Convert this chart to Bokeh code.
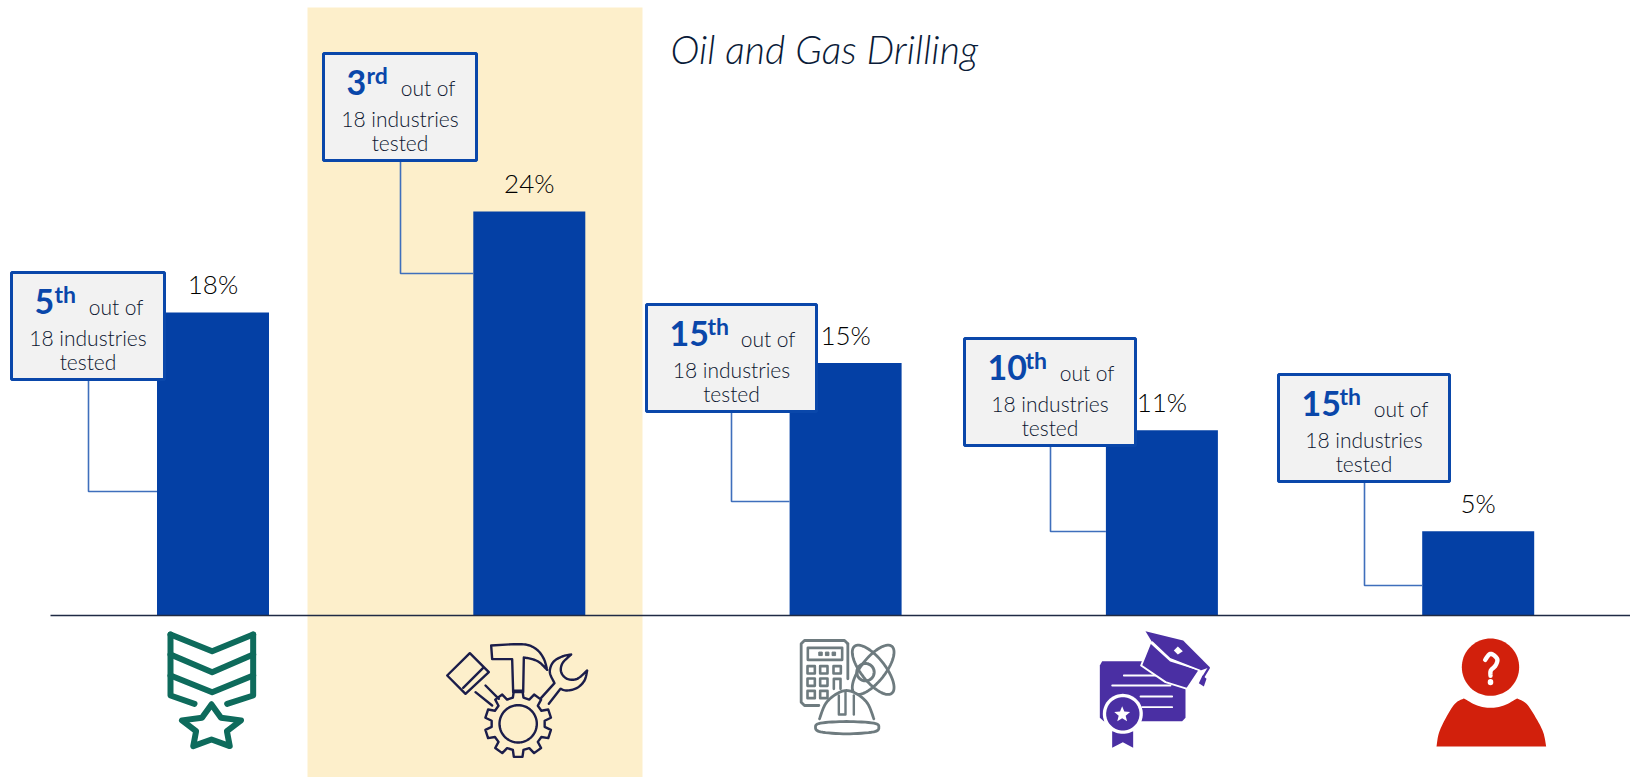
import numpy as np
from bokeh.core.properties import value
from bokeh.embed import file_html
from bokeh.models import ColumnDataSource, Range1d
from bokeh.plotting import figure
from bokeh.resources import INLINE

# Chart values
title_text = "Oil and Gas Drilling"
shares = [18, 24, 15, 11, 5]
ranks = ["5", "3", "15", "10", "15"]
suffixes = ["th", "rd", "th", "th", "th"]
note_head = "out of"
note_middle = "18 industries"
note_tail = "tested"

# Page layout, in pixels from the top left corner
WIDTH, HEIGHT = 1630, 777
BASE_Y = 615
PX_PER_POINT = 16.83
BAR_STEP = 316.3
FIRST_BAR = 212.5
BAR_W = 112 / BAR_STEP

box_left = [11, 323, 646, 964, 1278]
box_right = [164, 476, 816, 1135, 1449]
box_top = [272, 53, 304, 338, 374]
box_h = 107
leader_x = [88, 400, 731, 1050, 1364]
leader_y = [491, 273, 501, 531, 585]

BLUE = "#0440A5"
BOX_EDGE = "#0A47AA"
LEADER = "#3F6FBC"
INK = "#1F2A44"
NOTE_INK = "#0C1630"
FONT = value("Lato")
LIGHT = value("Lato Light, Lato")
# Rendered baselines sit this fraction of the font size under the requested y
DROP = 0.36

p = figure(
    width=WIDTH, height=HEIGHT, output_backend="svg", toolbar_location=None,
    x_range=Range1d(-FIRST_BAR / BAR_STEP, (WIDTH - FIRST_BAR) / BAR_STEP),
    y_range=Range1d(-(HEIGHT - BASE_Y) / PX_PER_POINT, BASE_Y / PX_PER_POINT),
    min_border=0, outline_line_color=None, background_fill_color="white",
)
p.axis.visible = False
p.grid.visible = False
p.extra_x_ranges["px"] = Range1d(0, WIDTH)
p.extra_y_ranges["px"] = Range1d(HEIGHT, 0)
PX = dict(x_range_name="px", y_range_name="px")


def label(x, y, text, size, color=INK, align="left", style="normal", font=FONT):
    p.text([x], [y - DROP * size], text=[text], text_font=font, text_font_style=style,
           text_font_size=f"{size}px", text_color=color, text_align=align,
           text_baseline="alphabetic", **PX)


# Highlighted column behind the second bar
p.quad(left=[307], right=[642], top=[7], bottom=[777], fill_color="#FDEFCB", line_color=None, **PX)

# Bars and their value labels
VALUE_SIZE = 26
src = ColumnDataSource(dict(
    x=list(range(len(shares))), share=shares,
    label=[f"{s}%" for s in shares],
))
p.vbar(x="x", top="share", bottom=0, width=BAR_W, source=src, fill_color=BLUE, line_color=None)
p.text(x="x", y="share", text="label", source=src, y_offset=-19 - DROP * VALUE_SIZE, text_align="center",
       text_baseline="alphabetic", text_font=LIGHT, text_font_size=f"{VALUE_SIZE}px", text_color="#000000")

# Axis line
p.line([50, 1630], [BASE_Y, BASE_Y], line_color=INK, line_width=1.6, **PX)

# Leaders from each box to its bar
for i in range(len(shares)):
    bar_left = FIRST_BAR + BAR_STEP * i - 56
    p.line([leader_x[i], leader_x[i], bar_left], [box_top[i] + box_h, leader_y[i], leader_y[i]],
           line_color=LEADER, line_width=1.6, **PX)

# Rank boxes
p.quad(left=box_left, right=box_right, top=box_top, bottom=[t + box_h for t in box_top],
       fill_color="#F2F2F2", line_color=BOX_EDGE, line_width=3, **PX)

for i in range(len(shares)):
    l, r, t = box_left[i], box_right[i], box_top[i]
    cx = (l + r) / 2
    rank_x = l + 23
    label(rank_x, t + 41, ranks[i], 34, BOX_EDGE, style="bold")
    label(rank_x + 18 * len(ranks[i]) + 2, t + 30, suffixes[i], 23, BOX_EDGE, style="bold")
    label(r - 21, t + 42, note_head, 21, NOTE_INK, align="right", font=LIGHT)
    label(cx, t + 73, note_middle, 21, NOTE_INK, align="center", font=LIGHT)
    label(cx, t + 97, note_tail, 21, NOTE_INK, align="center", font=LIGHT)

# Heading
label(670, 62, title_text, 39.2, "#0A1B38", style="italic", font=LIGHT)


# Icon helpers: every shape is given in the zoomed drawing grid of its icon
def grid(ox, oy, k=3.0):
    def convert(pts):
        a = np.asarray(pts, dtype=float)
        return list(ox + a[:, 0] / k), list(oy + a[:, 1] / k)
    return convert


def smooth(pts, closed=False, steps=8):
    """Catmull-Rom curve through the given outline points."""
    a = np.asarray(pts, dtype=float)
    if closed:
        a = np.vstack([a[-1], a, a[0], a[1]])
    else:
        a = np.vstack([a[0], a, a[-1]])
    out = []
    for i in range(1, len(a) - 2):
        p0, p1, p2, p3 = a[i - 1], a[i], a[i + 1], a[i + 2]
        for t in np.linspace(0, 1, steps, endpoint=False):
            out.append(0.5 * (2 * p1 + (p2 - p0) * t + (2 * p0 - 5 * p1 + 4 * p2 - p3) * t ** 2
                              + (3 * p1 - p0 - 3 * p2 + p3) * t ** 3))
    out.append(a[-2])
    return [tuple(q) for q in out]


def stroke(conv, pts, color, w, close=False):
    pts = list(pts)
    if close:
        pts = pts + [pts[0]]
    xs, ys = conv(pts)
    p.line(xs, ys, line_color=color, line_width=w, line_join="round", line_cap="round", **PX)


def fill(conv, pts, color, edge=None, w=0):
    xs, ys = conv(pts)
    p.patch(xs, ys, fill_color=color, line_color=edge, line_width=w, line_join="round", **PX)


def ring(cx, cy, rx, ry=None, tilt=0.0, n=72):
    ry = rx if ry is None else ry
    t = np.linspace(0, 2 * np.pi, n, endpoint=False)
    x, y = rx * np.cos(t), ry * np.sin(t)
    return [(cx + a * np.cos(tilt) - b * np.sin(tilt), cy + a * np.sin(tilt) + b * np.cos(tilt)) for a, b in zip(x, y)]


def star(cx, cy, outer, inner, stretch=1.0):
    t = -np.pi / 2 + np.arange(10) * np.pi / 5
    r = np.where(np.arange(10) % 2 == 0, outer, inner)
    return list(zip(cx + stretch * r * np.cos(t), cy + r * np.sin(t)))


# Chevrons and star
GREEN = "#0E6B5C"
g = grid(130, 610)
for path in (
    [(120, 72), (120, 255), (192, 280)],
    [(368, 72), (368, 255), (290, 280)],
    [(120, 72), (245, 122), (368, 72)],
    [(120, 132), (245, 185), (368, 132)],
    [(120, 195), (245, 245), (368, 195)],
):
    stroke(g, path, GREEN, 6)
stroke(g, star(243, 351, 69, 36, stretch=1.35), GREEN, 6, close=True)

# Tools and gear
NAVY = "#1B1D4A"
TOOL_W = 2.4
stroke(g, ring(1163, 340, 56), NAVY, TOOL_W, close=True)
teeth = []
for a in np.arange(10) * 2 * np.pi / 10 - np.pi / 2:
    for da, rad in ((-0.2, 80), (-0.13, 100), (0.13, 100), (0.2, 80)):
        teeth.append((1163 + rad * np.cos(a + da), 340 + rad * np.sin(a + da)))
stroke(g, teeth, NAVY, TOOL_W, close=True)
claw = smooth([(1150, 101), (1190, 103), (1220, 118), (1240, 145), (1250, 178)])
claw_under = smooth([(1250, 178), (1226, 155), (1202, 145), (1180, 141)])
stroke(g, [(1082, 105)] + claw + claw_under + [(1178, 245), (1148, 245), (1145, 146), (1085, 146)], NAVY, TOOL_W, close=True)
stroke(g, [(950, 195), (1018, 128), (1075, 185), (1005, 250)], NAVY, TOOL_W, close=True)
stroke(g, [(998, 232), (1058, 172)], NAVY, TOOL_W)
stroke(g, [(1035, 245), (1085, 285)], NAVY, TOOL_W)
stroke(g, [(1065, 225), (1105, 265)], NAVY, TOOL_W)
jaw_back = smooth([(1272, 218), (1258, 185), (1268, 155), (1295, 138), (1322, 132)])
jaw_notch = smooth([(1322, 132), (1296, 158), (1292, 185), (1310, 205), (1340, 205), (1370, 180)])
jaw_low = smooth([(1370, 180), (1362, 210), (1340, 232), (1310, 240), (1290, 235)])
stroke(g, [(1232, 262)] + jaw_back + jaw_notch + jaw_low + [(1255, 280)], NAVY, TOOL_W)

# Calculator, atom and helmet
GREY = "#6E7B7F"
g = grid(770, 610)
stroke(g, ring(308, 178, 90, 36, tilt=0.9), GREY, 2.8, close=True)
stroke(g, ring(308, 178, 90, 36, tilt=-0.9), GREY, 2.8, close=True)
stroke(g, ring(285, 185, 26), GREY, 3, close=True)
fill(g, [(92, 90), (232, 90), (232, 285), (92, 285)], "white")
stroke(g, [(232, 100), (222, 90), (102, 90), (92, 100), (92, 275), (102, 285), (145, 285)], GREY, 2.8)
stroke(g, [(232, 100), (232, 205)], GREY, 2.8)
stroke(g, [(112, 112), (215, 112), (215, 148), (112, 148)], GREY, 2.6, close=True)
p.scatter(*g([(150, 130), (170, 130), (190, 130)]), size=3.5, marker="square", color=GREY, **PX)
for bx in (122, 160, 200):
    for by in (178, 215, 252):
        if (bx, by) in ((200, 215), (200, 252)):
            continue
        stroke(g, [(bx - 11, by - 11), (bx + 11, by - 11), (bx + 11, by + 11), (bx - 11, by + 11)], GREY, 2.6, close=True)
stroke(g, [(190, 235), (190, 205), (210, 205), (210, 235)], GREY, 2.6)
dome = smooth([(147, 325), (165, 280), (195, 252), (228, 240), (262, 252), (292, 280), (310, 325)])
fill(g, dome + [(310, 345), (147, 345)], "white")
stroke(g, dome, GREY, 2.8)
stroke(g, smooth([(135, 350), (150, 338), (228, 333), (310, 338), (325, 350), (310, 364), (228, 370), (150, 364)], closed=True), GREY, 2.8)
for path in ([(205, 255), (205, 312), (225, 312), (225, 245)], [(250, 255), (250, 312)]):
    stroke(g, path, GREY, 2.4)

# Certificate and cap
PURPLE = "#4A2FA3"
fill(g, [(995, 152), (1235, 152), (1245, 165), (1245, 322), (1235, 332), (1000, 332), (988, 322), (988, 165)], PURPLE)
for path in ([(1060, 195), (1165, 195)], [(1025, 225), (1200, 225)], [(1110, 258), (1205, 258)], [(1115, 290), (1205, 290)]):
    stroke(g, path, "white", 1.8)
fill(g, [(1025, 362), (1088, 362), (1088, 412), (1057, 395), (1025, 412)], PURPLE)
fill(g, ring(1057, 310, 60), "white")
fill(g, ring(1057, 310, 50), PURPLE)
fill(g, star(1055, 312, 25, 11), "white")
fill(g, [(1140, 95), (1112, 165), (1185, 215), (1250, 235), (1288, 178), (1200, 150)], PURPLE, edge="white", w=2)
fill(g, [(1125, 62), (1238, 90), (1318, 170), (1290, 180), (1200, 145), (1145, 95)], PURPLE)
stroke(g, [(1145, 95), (1198, 145), (1288, 180)], "white", 1.8)
fill(g, [(1210, 120), (1222, 108), (1237, 122), (1222, 132)], "white")
stroke(g, [(1315, 172), (1298, 200)], PURPLE, 2.2)
fill(g, [(1285, 218), (1296, 195), (1308, 205), (1300, 228)], PURPLE)

# Person with a question mark
RED = "#D2200C"
g = grid(1400, 620)
fill(g, ring(270, 140, 86), RED)
stroke(g, smooth([(254, 118), (270, 100), (290, 115), (285, 135), (271, 150), (270, 166)]), "white", 4.4)
stroke(g, [(270, 184), (270, 186)], "white", 5.5)
fill(g, smooth([(108, 378), (116, 335), (140, 285), (165, 248), (190, 234)]) +
        smooth([(190, 234), (230, 255), (270, 262), (310, 255), (350, 234)]) +
        smooth([(350, 234), (378, 250), (405, 290), (428, 335), (437, 378)]), RED)

open("out.html", "w").write(file_html(p, INLINE))
